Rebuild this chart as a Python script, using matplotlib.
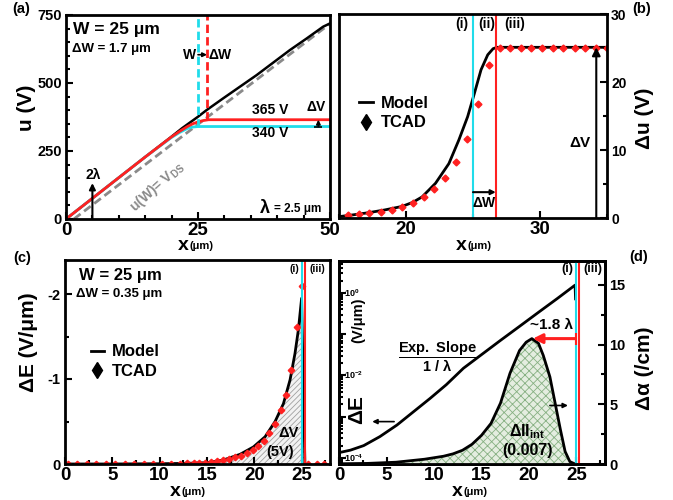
import matplotlib
matplotlib.use('Agg')
import matplotlib.pyplot as plt
from matplotlib.lines import Line2D
from matplotlib.ticker import MultipleLocator, FixedLocator, LogLocator, NullFormatter

plt.rcParams['font.family'] = ['Liberation Sans', 'DejaVu Sans']
plt.rcParams['font.weight'] = 'bold'
plt.rcParams['mathtext.fontset'] = 'custom'
plt.rcParams['mathtext.rm'] = 'Liberation Sans:bold'
plt.rcParams['mathtext.it'] = 'Liberation Sans:bold'
plt.rcParams['mathtext.bf'] = 'Liberation Sans:bold'
plt.rcParams['axes.unicode_minus'] = False
plt.rcParams['hatch.linewidth'] = 0.6

RED = '#ff2020'
CYAN = '#20dcea'
GRAY = '#8a8a8a'

# ---- (a) potential u(x), W = 25 um
a_W, a_dW = 25.0, 1.7
a_V1, a_V2 = 340, 365
a_black_x = [0, 5, 10, 15, 20, 22, 24, 25, 26.6, 29.8, 36.1, 42.4, 45.6, 48.7, 50]
a_black_u = [0, 76, 152, 228, 303, 334, 362, 376, 400, 444, 529, 621, 664, 707, 719]
a_red_x = [0, 5, 10, 15, 20, 21.5, 23, 24, 25, 26, 27, 50]
a_red_u = [0, 76, 152, 228, 302, 322, 340, 350, 357, 362, 365, 365]
a_cyan_x = [0, 5, 10, 15, 20, 21.5, 23, 24, 25, 50]
a_cyan_u = [0, 76, 152, 228, 300, 318, 333, 338, 340, 340]
a_gray_x = [1.5, 25, 50]
a_gray_u = [0, 348, 718]

# ---- (b) delta u
b_W, b_dW, b_dV = 25.0, 1.7, 25.1
b_model_x = [15.0, 16.0, 17.1, 18.4, 19.7, 20.5, 21.2, 22.2, 23.2, 23.95, 24.6, 25.1,
             25.6, 26.1, 26.5, 26.8, 35.2]
b_model_y = [0.2, 0.45, 0.75, 1.18, 1.7, 2.3, 3.1, 5.1, 8.0, 11.5, 14.9, 18.3,
             21.8, 24.0, 24.9, 25.1, 25.1]
b_tcad_x = [15.68, 16.46, 17.27, 18.11, 18.92, 19.72, 20.5, 21.31, 22.12, 22.93, 23.73,
            24.55, 25.36, 26.16, 26.99, 27.75, 28.56, 29.34, 30.15, 30.96, 31.74, 32.58,
            33.39, 34.19, 35.0]
b_tcad_y = [0.4, 0.59, 0.74, 0.88, 1.18, 1.62, 2.25, 3.13, 4.31, 5.93, 8.24,
            11.57, 16.8, 22.5, 25.0, 25.0, 25.0, 25.0, 25.0, 25.0, 25.0, 25.0,
            25.0, 25.0, 25.0]

# ---- (c) delta E, W = 25 um, dW = 0.35 um
c_W, c_dW = 25.0, 0.35
c_model_x = [0, 5, 10, 12, 13.5, 14.98, 16.73, 18.5, 19.9, 21.14, 22.2, 23.08, 23.78,
             24.3, 24.66, 25.0, 25.35]
c_model_y = [0, 0, -0.003, -0.006, -0.01, -0.015, -0.047, -0.114, -0.2, -0.32, -0.5,
             -0.71, -0.99, -1.3, -1.58, -1.95, 0]
c_tcad_x = [0.3, 1.3, 2.3, 3.3, 4.3, 5.3, 6.3, 7.3, 8.3, 9.3, 10.3, 11.2, 12.1, 12.9,
            13.6, 14.2, 14.8, 15.4, 16.1, 16.73, 17.37, 17.97, 18.6, 19.2, 19.84, 20.43,
            21.04, 21.6, 22.2, 22.8, 23.33, 23.89, 24.49, 25.02, 25.7, 26.6, 27.4]
c_tcad_y = [0, 0, 0, 0, 0, 0, 0, 0, 0, 0, 0, -0.002, -0.004, -0.006,
            -0.008, -0.011, -0.015, -0.02, -0.03, -0.047, -0.063, -0.078, -0.10, -0.13,
            -0.17, -0.215, -0.27, -0.37, -0.47, -0.63, -0.81, -1.11, -1.61, -2.09,
            0, 0, 0]

# ---- (d) delta E (log) and delta alpha
d_W, d_dW = 25.0, 0.3
d_E_x = [0.0, 1.2, 2.6, 4.3, 6.1, 7.8, 9.6, 11.3, 13.1, 15.0, 17.0, 19.0, 21.0, 23.0,
         24.85, 24.9]
d_E_y = [1.35e-4, 1.55e-4, 2.0e-4, 3.3e-4, 6.3e-4, 1.3e-3, 2.8e-3, 6.0e-3, 1.5e-2,
         3.2e-2, 7.1e-2, 0.155, 0.34, 0.74, 1.55, 0.72]
d_alpha_x = [0, 3, 6, 9, 11, 12, 13, 14, 15, 16, 17, 18, 19, 19.7, 20.3, 21.0, 21.5,
             22.2, 22.7, 23.3, 23.8, 24.3, 24.85]
d_alpha_y = [0.02, 0.05, 0.15, 0.4, 0.65, 0.85, 1.15, 1.65, 2.4, 3.4, 5.1, 7.6, 9.5,
             10.2, 10.5, 10.1, 9.1, 7.3, 5.3, 2.9, 1.05, 0.2, 0.0]
d_peak_x, d_peak_y = 20.4, 10.5
d_E_labels = [1e0, 1e-2, 1e-4]
d_E_names = [r'$10^{0}$', r'$10^{-2}$', r'$10^{-4}$']

FW, FH = 673, 500
fig = plt.figure(figsize=(FW / 100, FH / 100), dpi=100)


def add_ax(l, t, r, b):
    return fig.add_axes([l / FW, 1 - b / FH, (r - l) / FW, (b - t) / FH])


def ftext(px, py, s, **kw):
    fig.text(px / FW, 1 - py / FH, s, **kw)


def style(ax, xsize=13.5, ysize=10.5):
    for sp in ax.spines.values():
        sp.set_linewidth(2)
    ax.tick_params(which='both', direction='in', width=1.5)
    ax.tick_params(which='major', length=5)
    ax.tick_params(which='minor', length=3)
    ax.tick_params(axis='x', labelsize=xsize, pad=2)
    ax.tick_params(axis='y', labelsize=ysize, pad=3)


def xlabel(px, py):
    ftext(px, py, 'x', fontsize=14, ha='right', va='center')
    ftext(px + 1, py + 1, '(μm)', fontsize=8, ha='left', va='center')


def arrow(ax, x0, y0, x1, y1, color='k', lw=1.5, ms=8):
    ax.annotate('', xy=(x1, y1), xytext=(x0, y0),
                arrowprops=dict(arrowstyle='-|>', color=color, lw=lw,
                                mutation_scale=ms, shrinkA=0, shrinkB=0))


# ================= (a)
ax_a = add_ax(66, 15, 330, 219)
ax_a.plot(a_gray_x, a_gray_u, color=GRAY, lw=2, ls=(0, (3, 1.6)))
ax_a.plot(a_black_x, a_black_u, color='k', lw=1.8)
ax_a.plot(a_cyan_x, a_cyan_u, color=CYAN, lw=2)
ax_a.plot(a_red_x, a_red_u, color=RED, lw=2)
ax_a.vlines(a_W, a_V1, 750, color=CYAN, lw=2, linestyles=(0, (3, 1.5)))
ax_a.vlines(a_W + a_dW, a_V2, 750, color=RED, lw=2, linestyles=(0, (3, 1.5)))
ax_a.set_xlim(0, 50)
ax_a.set_ylim(0, 750)
ax_a.xaxis.set_major_locator(FixedLocator([0, 25, 50]))
ax_a.xaxis.set_minor_locator(MultipleLocator(5))
ax_a.yaxis.set_major_locator(MultipleLocator(250))
ax_a.yaxis.set_minor_locator(MultipleLocator(50))
style(ax_a)
ax_a.text(9.5, 695, 'W = 25 μm', fontsize=12.5, ha='center', va='center')
ax_a.text(8.7, 625, 'ΔW = 1.7 μm', fontsize=9.5, ha='center', va='center')
ax_a.text(24.6, 604, 'W', fontsize=10, ha='right', va='center')
ax_a.text(27.0, 604, 'ΔW', fontsize=10, ha='left', va='center')
arrow(ax_a, a_W, 604, a_W + a_dW, 604, ms=6, lw=1.2)
ax_a.text(38.6, 402, '365 V', fontsize=10, ha='center', va='center')
ax_a.text(38.6, 316, '340 V', fontsize=10, ha='center', va='center')
ax_a.text(47.4, 410, 'ΔV', fontsize=10, ha='center', va='center')
arrow(ax_a, 47.8, a_V1, 47.8, a_V2, ms=6, lw=1.2)
ax_a.plot([47.8], [a_V1], marker='_', ms=6, mew=1.2, color='k')
arrow(ax_a, 5, 0, 5, 132, ms=9, lw=1.5)
ax_a.text(5.2, 160, '2λ', fontsize=10, ha='center', va='center')
ax_a.text(17.2, 118, r'u(W)= V$_{\rm DS}$', fontsize=10, color=GRAY, rotation=42,
          ha='center', va='center')
ax_a.text(36.8, 40, 'λ', fontsize=13, ha='left', va='center')
ax_a.text(39.4, 37, '= 2.5 μm', fontsize=8.5, ha='left', va='center')

# ================= (b)
ax_b = add_ax(339, 14, 607, 218)
ax_b.plot(b_model_x, b_model_y, color='k', lw=2)
ax_b.plot(b_tcad_x, b_tcad_y, ls='none', marker='D', ms=3.5, color=RED)
ax_b.axvline(b_W, color=CYAN, lw=1.5)
ax_b.axvline(b_W + b_dW, color=RED, lw=1.5)
ax_b.set_xlim(15, 35)
ax_b.set_ylim(0, 30)
ax_b.yaxis.tick_right()
ax_b.xaxis.set_major_locator(MultipleLocator(10))
ax_b.xaxis.set_minor_locator(MultipleLocator(5))
ax_b.yaxis.set_major_locator(MultipleLocator(10))
ax_b.yaxis.set_minor_locator(MultipleLocator(5))
style(ax_b, ysize=10)
ax_b.text(24.2, 28.5, '(i)', fontsize=10, ha='center', va='center')
ax_b.text(26.0, 28.5, '(ii)', fontsize=10, ha='center', va='center')
ax_b.text(28.1, 28.5, '(iii)', fontsize=10, ha='center', va='center')
arrow(ax_b, b_W, 3.8, b_W + b_dW, 3.8, ms=7, lw=1.5)
ax_b.text(25.8, 2.2, 'ΔW', fontsize=10, ha='center', va='center')
arrow(ax_b, 34.2, 0, 34.2, b_dV, ms=12, lw=1.5)
ax_b.text(33.0, 11.0, 'ΔV', fontsize=11, ha='center', va='center')
hb = [Line2D([], [], color='k', lw=2),
      Line2D([], [], ls='none', marker='d', ms=8, color='k')]
ax_b.legend(hb, ['Model', 'TCAD'], frameon=False, loc='upper left',
            bbox_to_anchor=(0.02, 0.67), handlelength=0.8, handletextpad=0.5,
            labelspacing=0.25, prop={'weight': 'bold', 'size': 12})

# ================= (c)
ax_c = add_ax(65, 260, 330, 464)
ax_c.fill_between(c_model_x, c_model_y, 0, facecolor='#f2f2f2', edgecolor='#a0a0a0',
                  hatch='//////', lw=0)
ax_c.plot(c_model_x, c_model_y, color='k', lw=2)
ax_c.plot(c_tcad_x, c_tcad_y, ls='none', marker='D', ms=3.3, color=RED)
ax_c.axvline(c_W, color=CYAN, lw=1.5)
ax_c.axvline(c_W + c_dW, color=RED, lw=1.5)
ax_c.set_xlim(0, 28)
ax_c.set_ylim(0, -2.4)
ax_c.xaxis.set_major_locator(FixedLocator([0, 5, 10, 15, 20, 25]))
ax_c.xaxis.set_minor_locator(MultipleLocator(2.5))
ax_c.yaxis.set_major_locator(MultipleLocator(1))
ax_c.yaxis.set_minor_locator(MultipleLocator(0.5))
style(ax_c)
ax_c.text(5.9, -2.22, 'W = 25 μm', fontsize=12, ha='center', va='center')
ax_c.text(5.7, -2.0, 'ΔW = 0.35 μm', fontsize=9.5, ha='center', va='center')
ax_c.text(24.2, -2.29, '(i)', fontsize=7.5, ha='center', va='center')
ax_c.text(26.7, -2.29, '(iii)', fontsize=7.5, ha='center', va='center')
ax_c.text(23.6, -0.37, 'ΔV', fontsize=10.5, ha='center', va='center')
ax_c.text(22.7, -0.14, '(5V)', fontsize=10.5, ha='center', va='center')
ax_c.legend(hb, ['Model', 'TCAD'], frameon=False, loc='upper left',
            bbox_to_anchor=(0.04, 0.66), handlelength=0.8, handletextpad=0.5,
            labelspacing=0.25, prop={'weight': 'bold', 'size': 12})

# ================= (d)
ax_d = add_ax(339, 261, 605, 464)
ax_d.set_yscale('log')
ax_d.plot(d_E_x, d_E_y, color='k', lw=2)
ax_d.set_xlim(0, 28)
ax_d.set_ylim(10 ** -4.145, 10 ** 0.775)
ax_d.yaxis.set_major_locator(LogLocator(base=10, numticks=12))
ax_d.yaxis.set_minor_locator(LogLocator(base=10, subs=range(2, 10), numticks=12))
ax_d.yaxis.set_minor_formatter(NullFormatter())
ax_d.xaxis.set_major_locator(FixedLocator([0, 5, 10, 15, 20, 25]))
ax_d.xaxis.set_minor_locator(MultipleLocator(2.5))
style(ax_d)
ax_d.tick_params(axis='y', labelleft=False)
for v, s in zip(d_E_labels, d_E_names):
    ax_d.text(0.02, v, s, fontsize=6.5, ha='left', va='center',
              transform=ax_d.get_yaxis_transform())

ax_dr = ax_d.twinx()
ax_dr.fill_between(d_alpha_x, d_alpha_y, 0, facecolor='#e4ede0', edgecolor='#86b082',
                   hatch='xxxx', lw=0)
ax_dr.plot(d_alpha_x, d_alpha_y, color='k', lw=2)
ax_dr.axvline(d_W, color=CYAN, lw=1.5)
ax_dr.axvline(d_W + d_dW, color=RED, lw=1.5)
ax_dr.set_ylim(0, 17)
ax_dr.yaxis.set_major_locator(MultipleLocator(5))
ax_dr.yaxis.set_minor_locator(MultipleLocator(2.5))
style(ax_dr)
ax_dr.tick_params(axis='y', labelsize=10.5)
arrow(ax_dr, 24.9, d_peak_y, d_peak_x, d_peak_y, color=RED, lw=2.2, ms=14)
ax_dr.plot([24.9], [d_peak_y], marker='|', ms=8, mew=1.5, color=RED)
ax_dr.text(22.4, 11.6, '~1.8 λ', fontsize=11, ha='center', va='center')
ax_dr.text(24.0, 16.3, '(i)', fontsize=9, ha='center', va='center')
ax_dr.text(26.7, 16.3, '(iii)', fontsize=9, ha='center', va='center')
ax_dr.text(10.4, 9.0, r'$\dfrac{\mathbf{Exp.\ Slope}}{\mathbf{1\ /\ \lambda}}$',
           fontsize=10.5, ha='center', va='center')
ax_dr.text(19.8, 2.7, r'$\Delta$II$_{\rm int}$', fontsize=11.5, ha='center', va='center')
ax_dr.text(19.8, 1.15, '(0.007)', fontsize=11.5, ha='center', va='center')
arrow(ax_dr, 5.8, 3.55, 3.5, 3.55, ms=7, lw=1.2)
arrow(ax_dr, 22.2, 4.9, 24.1, 4.9, ms=7, lw=1.2)
ax_dr.text(1.9, 4.6, 'ΔE', fontsize=15, rotation=90, ha='center', va='center')
ax_dr.text(2.0, 12.0, '(V/μm)', fontsize=10.5, rotation=90, ha='center', va='center')

# ---- axis labels and panel tags
ftext(27, 108, 'u (V)', fontsize=15, rotation=90, ha='center', va='center')
ftext(645, 118, 'Δu (V)', fontsize=15, rotation=90, ha='center', va='center')
ftext(29, 342, 'ΔE (V/μm)', fontsize=15, rotation=90, ha='center', va='center')
ftext(645, 368, 'Δα (/cm)', fontsize=15, rotation=90, ha='center', va='center')
xlabel(189, 245)
xlabel(467, 245)
xlabel(181, 491)
xlabel(463, 491)
ftext(21, 9, '(a)', fontsize=10.5, ha='center', va='center')
ftext(642, 9, '(b)', fontsize=10.5, ha='center', va='center')
ftext(22, 258, '(c)', fontsize=10.5, ha='center', va='center')
ftext(639, 257, '(d)', fontsize=10.5, ha='center', va='center')

fig.savefig('out.png', dpi=100)
